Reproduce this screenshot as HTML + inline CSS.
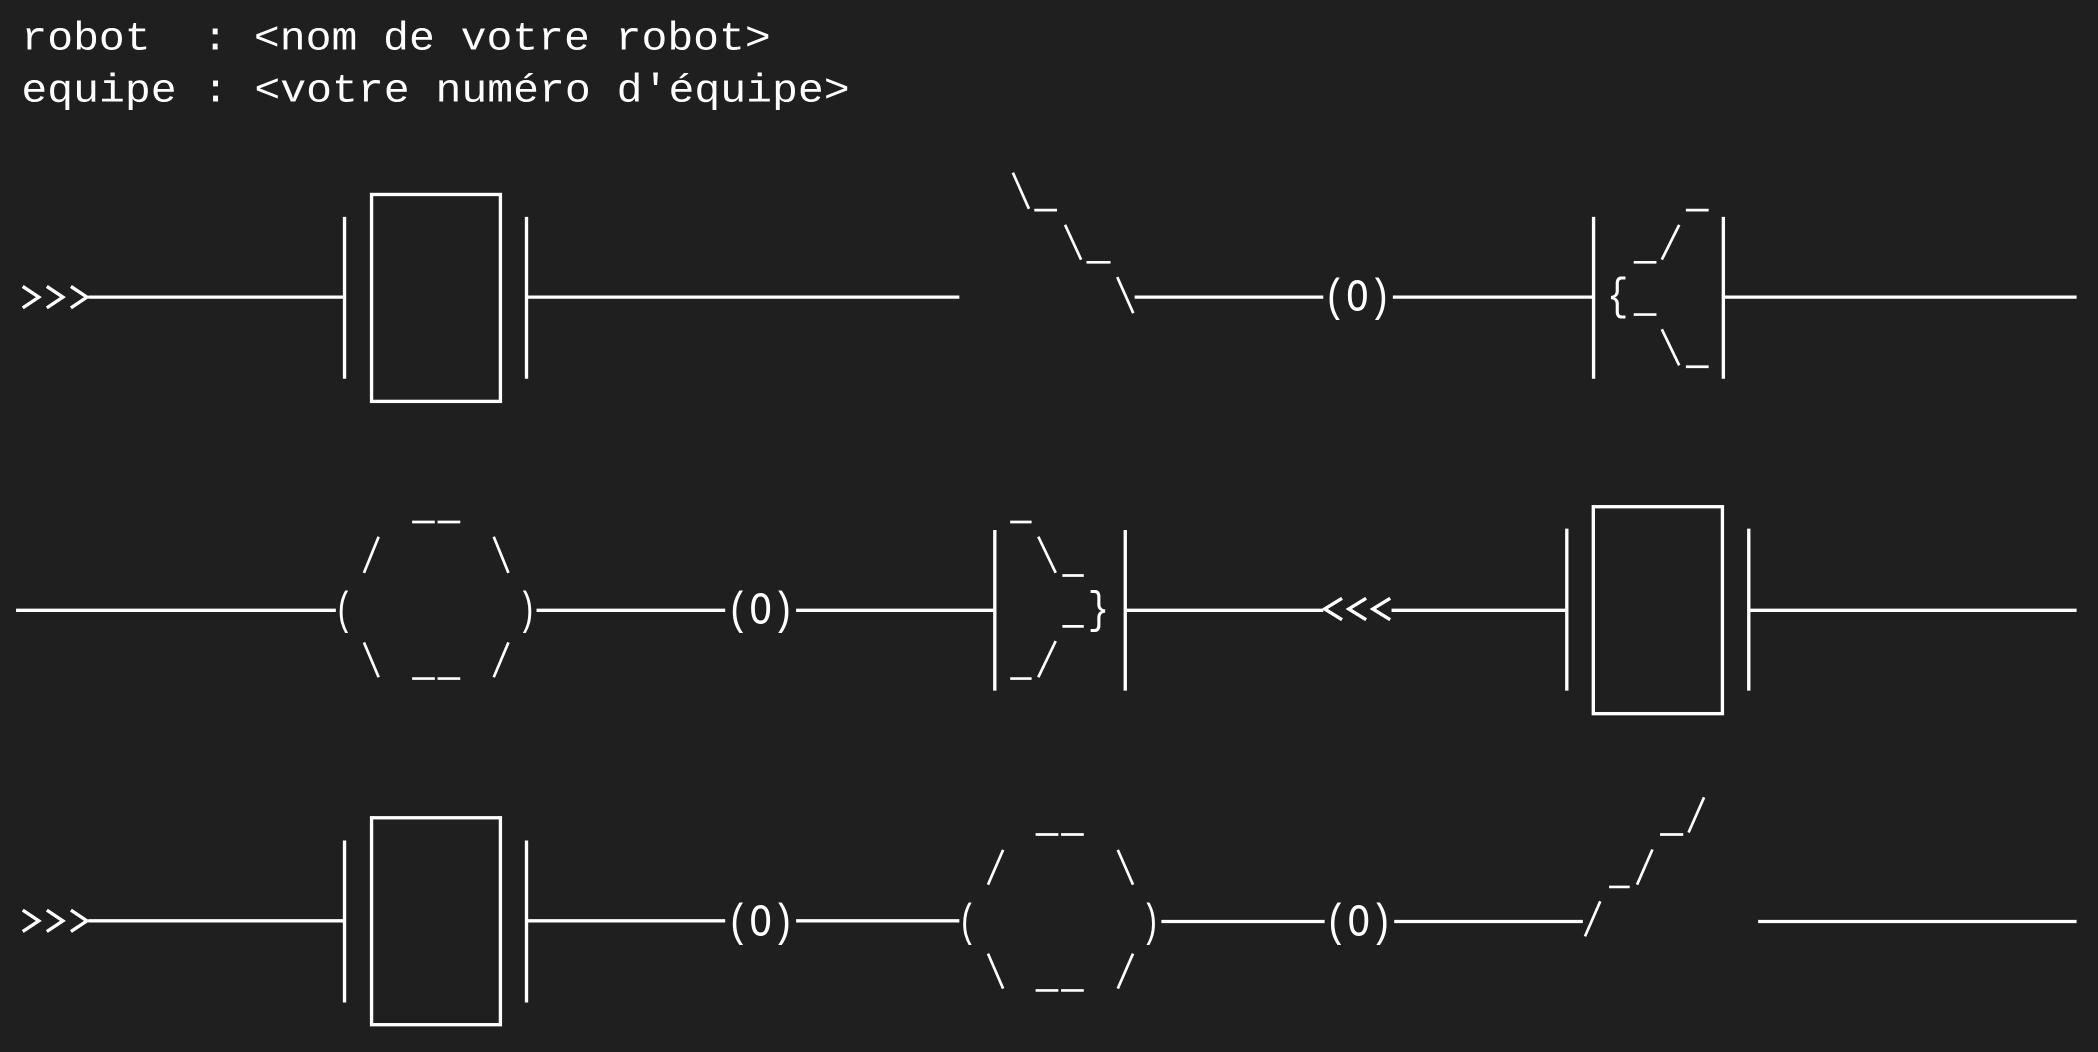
<!DOCTYPE html>
<html><head><meta charset="utf-8"><style>
html,body{margin:0;padding:0;background:#1f1f1f;}
svg{display:block;}
text{font-family:"Liberation Mono","DejaVu Sans Mono",monospace;fill:#fff;white-space:pre;}
</style></head><body>
<svg width="2098" height="1052" viewBox="0 0 1568 786" preserveAspectRatio="none" xmlns="http://www.w3.org/2000/svg">
<rect width="1568" height="786" fill="#1f1f1f"/>
<text x="16" y="37" font-size="30" textLength="560" lengthAdjust="spacingAndGlyphs" xml:space="preserve">robot&#160; : &lt;nom de votre robot&gt;</text>
<text x="16" y="76" font-size="30" textLength="619" lengthAdjust="spacingAndGlyphs">equipe : &lt;votre numéro d'équipe&gt;</text>
<g stroke="#fff" stroke-width="2.5" fill="none" stroke-linecap="butt">
<!-- Row 1 -->
<polyline points="17,214 29,222 17,230"/><polyline points="35,214 47,222 35,230"/><polyline points="53,214 65,222 53,230"/>
<line x1="66" y1="222" x2="257" y2="222"/>
<line x1="257.5" y1="162" x2="257.5" y2="283"/>
<rect x="277.7" y="145.3" width="96.3" height="154.6"/>
<line x1="393.5" y1="162" x2="393.5" y2="283"/>
<line x1="394" y1="222" x2="717" y2="222"/>
<g stroke-width="2">
<line x1="757" y1="129" x2="769" y2="156"/><line x1="773" y1="157" x2="790" y2="157"/>
<line x1="796" y1="168" x2="808" y2="194"/><line x1="812" y1="196" x2="830" y2="196"/>
<line x1="835" y1="207" x2="847" y2="234"/>
</g>
<line x1="848" y1="222" x2="989" y2="222"/>
<line x1="1041" y1="222" x2="1190" y2="222"/>
<line x1="1191" y1="162" x2="1191" y2="283"/>
<line x1="1288" y1="162" x2="1288" y2="283"/>
<line x1="1289" y1="222" x2="1552" y2="222"/>
<g stroke-width="2">
<line x1="1260" y1="157" x2="1277" y2="157"/>
<line x1="1242" y1="194" x2="1255" y2="168"/>
<line x1="1221" y1="196" x2="1238" y2="196"/>
<line x1="1221" y1="235" x2="1238" y2="235"/>
<line x1="1242" y1="246" x2="1255" y2="273"/>
<line x1="1260" y1="274" x2="1277" y2="274"/>
</g>
<!-- Row 2 -->
<line x1="12" y1="456" x2="251" y2="456"/>
<g stroke-width="2">
<line x1="308" y1="390" x2="325" y2="390"/><line x1="327" y1="390" x2="344" y2="390"/>
<line x1="272" y1="428" x2="283" y2="401"/><line x1="369" y1="401" x2="380" y2="428"/>
<line x1="272" y1="480" x2="283" y2="506"/><line x1="369" y1="506" x2="380" y2="480"/>
<line x1="308" y1="507" x2="325" y2="507"/><line x1="327" y1="507" x2="344" y2="507"/>
</g>
<line x1="401" y1="456" x2="542" y2="456"/>
<line x1="595" y1="456" x2="743" y2="456"/>
<line x1="743.5" y1="396" x2="743.5" y2="516"/>
<line x1="841" y1="396" x2="841" y2="516"/>
<g stroke-width="2">
<line x1="755" y1="390" x2="771" y2="390"/>
<line x1="776" y1="401" x2="789" y2="428"/><line x1="794" y1="430" x2="810" y2="430"/>
<line x1="794" y1="468" x2="810" y2="468"/>
<line x1="776" y1="506" x2="789" y2="479"/><line x1="755" y1="507" x2="771" y2="507"/>
</g>
<line x1="842" y1="456" x2="989" y2="456"/>
<polyline points="1003,447 990,455 1003,463"/><polyline points="1021,447 1008,455 1021,463"/><polyline points="1039,447 1026,455 1039,463"/>
<line x1="1040" y1="456" x2="1171" y2="456"/>
<line x1="1171" y1="395" x2="1171" y2="516"/>
<rect x="1190.8" y="378.6" width="96.5" height="154.6"/>
<line x1="1307" y1="395" x2="1307" y2="516"/>
<line x1="1308" y1="456" x2="1552" y2="456"/>
<!-- Row 3 -->
<polyline points="17,680 29,688 17,696"/><polyline points="35,680 47,688 35,696"/><polyline points="53,680 65,688 53,696"/>
<line x1="66" y1="688" x2="257" y2="688"/>
<line x1="257.5" y1="628" x2="257.5" y2="749"/>
<rect x="277.7" y="611" width="96.3" height="154.6"/>
<line x1="393.5" y1="628" x2="393.5" y2="749"/>
<line x1="394" y1="688" x2="542" y2="688"/>
<line x1="595" y1="688" x2="717" y2="688"/>
<g stroke-width="2">
<line x1="774" y1="623.5" x2="791" y2="623.5"/><line x1="793" y1="623.5" x2="810" y2="623.5"/>
<line x1="738.4" y1="661" x2="749.7" y2="635"/><line x1="835.4" y1="635" x2="846.8" y2="661"/>
<line x1="738.4" y1="712.5" x2="749.7" y2="738.6"/><line x1="835.4" y1="738.6" x2="846.8" y2="712.5"/>
<line x1="774" y1="740" x2="791" y2="740"/><line x1="793" y1="740" x2="810" y2="740"/>
</g>
<line x1="868" y1="688.5" x2="990" y2="688.5"/>
<line x1="1042" y1="688.5" x2="1183" y2="688.5"/>
<g stroke-width="2">
<line x1="1184.6" y1="699.6" x2="1196" y2="673.4"/>
<line x1="1202.6" y1="662.7" x2="1218" y2="662.7"/>
<line x1="1223.5" y1="661" x2="1235" y2="634.7"/>
<line x1="1240.7" y1="623.5" x2="1258" y2="623.5"/>
<line x1="1262" y1="622" x2="1273.6" y2="595.7"/>
</g>
<line x1="1314" y1="688.5" x2="1552" y2="688.5"/>
</g>
<!-- text glyphs -->
<text x="989" y="232" font-size="34" textLength="51" lengthAdjust="spacingAndGlyphs">(O)</text>
<text x="1201" y="231" font-size="33" textLength="16" lengthAdjust="spacingAndGlyphs">{</text>
<text x="250" y="466" font-size="34" textLength="14" lengthAdjust="spacingAndGlyphs">(</text>
<text x="387" y="466" font-size="34" textLength="14" lengthAdjust="spacingAndGlyphs">)</text>
<text x="543" y="466" font-size="34" textLength="51" lengthAdjust="spacingAndGlyphs">(O)</text>
<text x="813" y="465" font-size="33" textLength="16" lengthAdjust="spacingAndGlyphs">}</text>
<text x="543" y="699" font-size="34" textLength="51" lengthAdjust="spacingAndGlyphs">(O)</text>
<text x="716" y="699" font-size="34" textLength="14" lengthAdjust="spacingAndGlyphs">(</text>
<text x="853" y="699" font-size="34" textLength="14" lengthAdjust="spacingAndGlyphs">)</text>
<text x="990" y="699" font-size="34" textLength="51" lengthAdjust="spacingAndGlyphs">(O)</text>
</svg>
</body></html>
